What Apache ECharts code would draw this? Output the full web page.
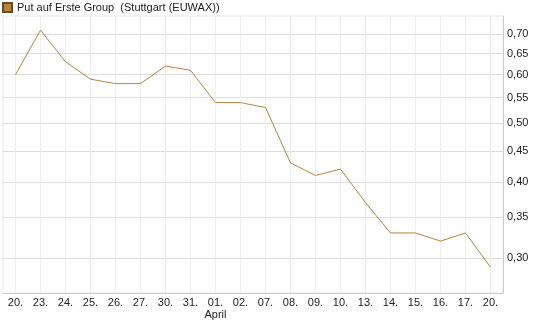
<!DOCTYPE html>
<html>
<head>
<meta charset="utf-8">
<script src="https://cdn.jsdelivr.net/npm/echarts@6/dist/echarts.min.js"></script>
<style>
  html, body { margin: 0; padding: 0; background: #fff; }
  #chart { width: 545px; height: 327px; }
</style>
</head>
<body>
<div id="chart"></div>
<script>
// Handelstage (x-Achse)
const days = ['20.', '23.', '24.', '25.', '26.', '27.', '30.', '31.', '01.', '02.',
  '07.', '08.', '09.', '10.', '13.', '14.', '15.', '16.', '17.', '20.'];
// Kurs Put auf Erste Group
const prices = [0.60, 0.71, 0.63, 0.59, 0.58, 0.58, 0.62, 0.61, 0.54, 0.54,
  0.53, 0.43, 0.41, 0.42, 0.37, 0.33, 0.33, 0.32, 0.33, 0.29];
// y-Achse Beschriftung (log)
const yTicks = [0.30, 0.35, 0.40, 0.45, 0.50, 0.55, 0.60, 0.65, 0.70];

const chart = echarts.init(document.getElementById('chart'));
chart.setOption({
  backgroundColor: '#fff',
  animation: false,
  textStyle: { fontFamily: 'Liberation Sans, Arial, sans-serif' },
  legend: {
    data: ['Put auf Erste Group  (Stuttgart (EUWAX))'],
    left: 2,
    top: 2,
    padding: 0,
    icon: 'rect',
    itemWidth: 9,
    itemHeight: 9,
    selectedMode: false,
    textStyle: { fontSize: 11, color: '#222' }
  },
  grid: {
    left: 3,
    right: 42,
    top: 16,
    bottom: 34,
    show: true,
    borderColor: '#e8e8e8',
    borderWidth: 1
  },
  xAxis: {
    type: 'category',
    data: days,
    boundaryGap: true,
    axisLine: { lineStyle: { color: '#ccc' } },
    axisTick: { show: false },
    axisLabel: {
      interval: 0,
      margin: 4,
      fontSize: 11,
      color: '#222',
      lineHeight: 12,
      formatter: function(v, i) {
        return i === 8 ? v + '\nApril' : v
      }
    },
    splitLine: {
      show: true,
      alignWithLabel: true,
      lineStyle: { color: '#eeeeee' }
    }
  },
  yAxis: {
    type: 'log',
    logBase: 10,
    position: 'right',
    min: 0.263,
    max: 0.749,
    axisLine: { show: true, lineStyle: { color: '#ccc' } },
    axisTick: { show: false, customValues: yTicks },
    axisLabel: {
      customValues: yTicks,
      margin: 4,
      fontSize: 11,
      color: '#222',
      formatter: function(v) {
        return v.toFixed(2).replace('.', ',')
      }
    },
    splitLine: { show: true, lineStyle: { color: '#dddddd' } }
  },
  series: [{
    name: 'Put auf Erste Group  (Stuttgart (EUWAX))',
    type: 'line',
    data: prices,
    symbol: 'none',
    color: '#b5843f',
    itemStyle: { color: '#b5843f', borderColor: '#6b4a1e', borderWidth: 1 },
    lineStyle: { color: '#b5843f', width: 1 }
  }]
});
</script>
</body>
</html>
